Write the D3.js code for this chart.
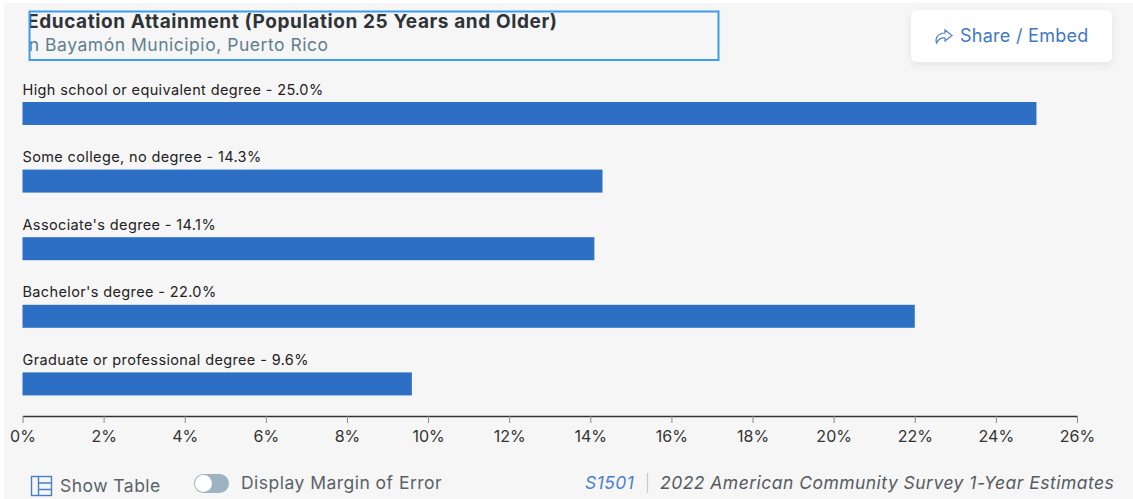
<!DOCTYPE html>
<html><head><meta charset="utf-8">
<script src="https://cdn.jsdelivr.net/npm/d3@7"></script>
<style>html,body{margin:0;padding:0;background:#fff;overflow:hidden}svg{display:block}text{font-family:Inter,"Noto Sans",sans-serif}</style>
</head><body><svg id="c" width="1133" height="499"></svg>
<script>
const categories=["High school or equivalent degree","Some college, no degree","Associate's degree","Bachelor's degree","Graduate or professional degree"];
const values=[25.0,14.3,14.1,22.0,9.6];
const tickValues=[0,2,4,6,8,10,12,14,16,18,20,22,24,26];
const titleText="Education Attainment (Population 25 Years and Older)";
const subtitleText="In Bayamón Municipio, Puerto Rico";

const svg=d3.select("#c");
const defs=svg.append("defs");
defs.append("clipPath").attr("id","tc").append("rect").attr("x",29.5).attr("y",11).attr("width",689).attr("height",49);
const f=defs.append("filter").attr("id","sh").attr("x","-10%").attr("y","-30%").attr("width","120%").attr("height","170%");
f.append("feDropShadow").attr("dx",0).attr("dy",3).attr("stdDeviation",5).attr("flood-color","#000").attr("flood-opacity",0.07);

svg.append("rect").attr("x",4).attr("y",3).attr("width",1129).attr("height",496).attr("fill","#f6f6f6");

const x=d3.scaleLinear().domain([0,26]).range([22.5,1077]);
const y=d3.scaleBand().domain(categories).range([80,418]).paddingInner(0).paddingOuter(0);

const rows=svg.append("g").selectAll("g").data(categories).join("g");
rows.append("rect").attr("x",x(0)).attr("y",(d)=>y(d)+22).attr("height",23)
  .attr("width",(d,i)=>x(values[i])-x(0)).attr("fill","#2d6fc4");
rows.append("text").attr("x",x(0)).attr("y",(d)=>y(d)+14.5).attr("font-size",14.5).attr("letter-spacing",0.37).attr("fill","#222")
  .text((d,i)=>`${d} - ${values[i].toFixed(1)}%`);

const axis=svg.append("g").attr("transform","translate(0,416)")
  .call(d3.axisBottom(x).tickValues(tickValues).tickFormat(d=>d+"%").tickSize(7).tickSizeOuter(0));
axis.select(".domain").attr("stroke","#333").attr("stroke-width",1.4);
axis.selectAll(".tick line").attr("stroke","#888").attr("stroke-width",1);
axis.selectAll(".tick text").attr("font-size",16).attr("fill","#333").attr("dy",0).attr("y",26).style("font-family","Inter");

const t=svg.append("g").attr("clip-path","url(#tc)");
t.append("text").attr("x",27).attr("y",28).attr("font-size",19).attr("letter-spacing",0.6).attr("font-weight",700).attr("fill","#2f3337").text(titleText);
t.append("text").attr("x",23.5).attr("y",51).attr("font-size",17.5).attr("letter-spacing",0.53).attr("fill","#5f7f90").text(subtitleText);
svg.append("rect").attr("x",29.5).attr("y",11.5).attr("width",689).attr("height",48.5).attr("fill","none").attr("stroke","#3f9bf0").attr("stroke-width",2);

svg.append("rect").attr("x",911).attr("y",10).attr("width",201).attr("height",52).attr("rx",6).attr("fill","#fff").attr("filter","url(#sh)");
svg.append("path").attr("d","M945 30 L952 35.5 L945 41 V38 C941 37.5 938.5 39 936.5 43 C935 38 937.5 33.5 945 33 Z").attr("fill","none").attr("stroke","#4a7fc4").attr("stroke-width",1.2);
svg.append("text").attr("x",960).attr("y",42).attr("font-size",18).attr("letter-spacing",0.27).attr("fill","#3f78c4").text("Share / Embed");

const ic=svg.append("g").attr("fill","none").attr("stroke","#4a7fc4").attr("stroke-width",1.4);
ic.append("rect").attr("x",31.5).attr("y",476.5).attr("width",20).attr("height",19);
ic.append("path").attr("d","M38.5 476.5V495.5M38.5 483H51.5M38.5 489.5H51.5");
const small={"font-size":17.5,"letter-spacing":0.47};
const label=(xx,yy,txt,fill,italic)=>svg.append("text").attr("x",xx).attr("y",yy).attr("font-size",small["font-size"]).attr("letter-spacing",small["letter-spacing"]).attr("font-style",italic?"italic":"normal").attr("fill",fill).text(txt);
label(60,492,"Show Table","#5a6268");

svg.append("rect").attr("x",194).attr("y",474).attr("width",35).attr("height",19).attr("rx",9.5).attr("fill","#9db3c2");
svg.append("circle").attr("cx",203.5).attr("cy",483.5).attr("r",8.5).attr("fill","#fff");
label(241,489,"Display Margin of Error","#5a6268");

label(585,489,"S1501","#4a80cc",true);
svg.append("line").attr("x1",647.5).attr("x2",647.5).attr("y1",473).attr("y2",493).attr("stroke","#c4ccd2").attr("stroke-width",1.2);
label(660,489,"2022 American Community Survey 1-Year Estimates","#555b60",true);
</script></body></html>
